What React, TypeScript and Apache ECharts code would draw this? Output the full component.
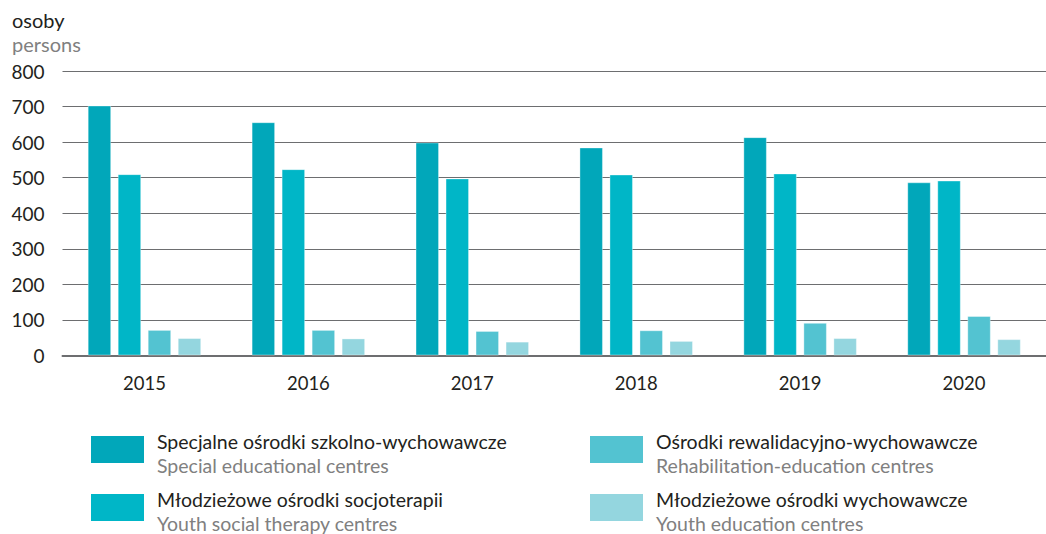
import React, { useEffect, useRef } from "react";
import * as echarts from "echarts";

const years = ["2015", "2016", "2017", "2018", "2019", "2020"];
const special = [703, 656, 599, 585, 614, 487];
const youthTherapy = [510, 524, 498, 509, 512, 492];
const rehab = [72, 72, 69, 71, 92, 111];
const youthEdu = [49, 48, 39, 41, 49, 46];

const seriesNamesPl = [
  "Specjalne ośrodki szkolno-wychowawcze",
  "Młodzieżowe ośrodki socjoterapii",
  "Ośrodki rewalidacyjno-wychowawcze",
  "Młodzieżowe ośrodki wychowawcze",
];
const seriesNamesEn = [
  "Special educational centres",
  "Youth social therapy centres",
  "Rehabilitation-education centres",
  "Youth education centres",
];
const colors = ["#01a7ba", "#00b6c7", "#53c3d1", "#94d6df"];
const FONT = "Lato, 'Open Sans', sans-serif";

export default function App() {
  const ref = useRef<HTMLDivElement>(null);
  useEffect(() => {
    if (!ref.current) return;
    const chart = echarts.init(ref.current, undefined, { renderer: "svg" });
    const data = [special, youthTherapy, rehab, youthEdu];
    const legendPos = [
      { x: 91, y: 436 },
      { x: 91, y: 494 },
      { x: 590, y: 436 },
      { x: 590, y: 494 },
    ];
    const graphics: any[] = [
      {
        type: "text",
        x: 12,
        y: 20,
        style: { text: "osoby", fontSize: 20, fill: "#231f20", fontFamily: FONT, verticalAlign: "middle" },
      },
      {
        type: "text",
        x: 12,
        y: 44,
        style: { text: "persons", fontSize: 20, fill: "#808080", fontFamily: FONT, verticalAlign: "middle" },
      },
    ];
    legendPos.forEach((p, i) => {
      graphics.push({
        type: "rect",
        shape: { x: p.x, y: p.y, width: 53, height: 27 },
        style: { fill: colors[i] },
      });
      graphics.push({
        type: "text",
        x: p.x + 66,
        y: p.y + 5,
        style: {
          text: seriesNamesPl[i],
          fontSize: 19.5,
          fill: "#231f20",
          fontFamily: FONT,
          verticalAlign: "middle",
        },
      });
      graphics.push({
        type: "text",
        x: p.x + 66,
        y: p.y + 29,
        style: {
          text: seriesNamesEn[i],
          fontSize: 19.5,
          fill: "#808080",
          fontFamily: FONT,
          verticalAlign: "middle",
        },
      });
    });
    chart.setOption({
      animation: false,
      grid: { left: 62.5, width: 990, top: 71, height: 284.5 },
      xAxis: {
        type: "category",
        data: years,
        axisTick: { show: false },
        axisLine: { lineStyle: { color: "#6d6e70", width: 2 } },
        axisLabel: { color: "#231f20", fontSize: 18.5, fontFamily: FONT, margin: 18 },
      },
      yAxis: {
        type: "value",
        min: 0,
        max: 800,
        interval: 100,
        axisLine: { show: false },
        axisTick: { show: false },
        splitLine: { lineStyle: { color: "#6d6e70", width: 1 } },
        axisLabel: { color: "#231f20", fontSize: 19, fontFamily: FONT, margin: 18 },
      },
      series: data.map((d, i) => ({
        type: "bar",
        name: seriesNamesPl[i],
        data: d,
        barWidth: 23.5,
        barGap: "27.7%",
        itemStyle: { color: colors[i], borderColor: "rgba(255,255,255,0.35)", borderWidth: 1 },
      })),
      graphic: graphics,
    });
    return () => chart.dispose();
  }, []);
  return (
    <div
      ref={ref}
      style={{ position: "absolute", left: 0, top: 0, width: 1046, height: 534 }}
    />
  );
}
